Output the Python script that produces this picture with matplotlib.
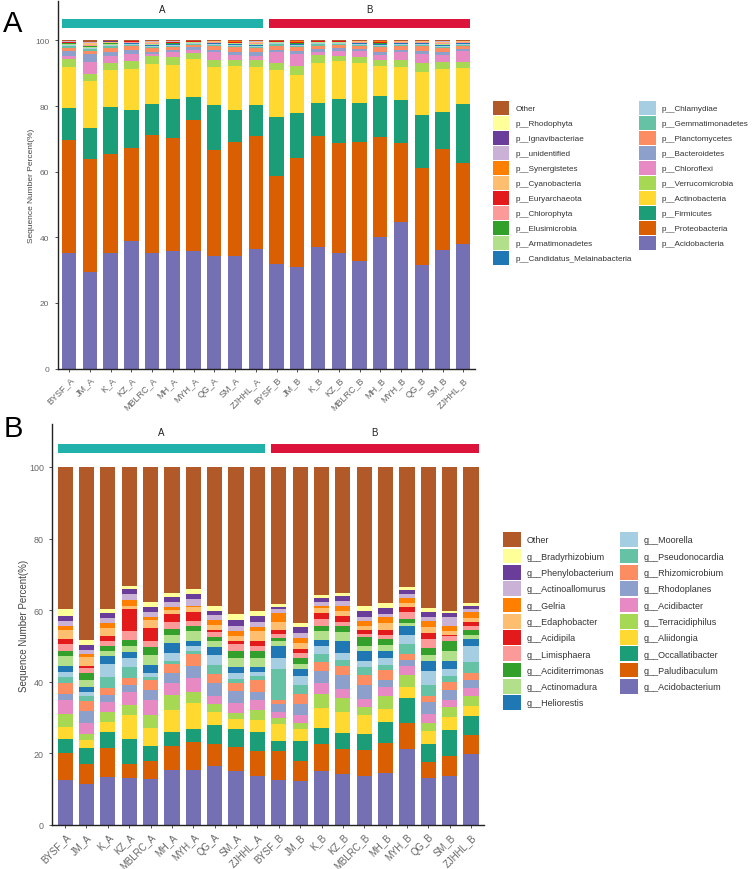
import numpy as np
import matplotlib
matplotlib.use('Agg')
import matplotlib.pyplot as plt
from matplotlib.patches import Patch

plt.rcParams['font.family'] = ['Liberation Sans', 'DejaVu Sans']

samples = ['BYSF_A', 'JM_A', 'K_A', 'KZ_A', 'MBLRC_A', 'MH_A', 'MYH_A', 'QG_A', 'SM_A', 'ZJHHL_A',
           'BYSF_B', 'JM_B', 'K_B', 'KZ_B', 'MBLRC_B', 'MH_B', 'MYH_B', 'QG_B', 'SM_B', 'ZJHHL_B']
groups = ['A', 'B']
group_colors = ['#20B2AA', '#DC143C']

# ---- phylum level (panel A), bottom of stack first ----
p_Acidobacteria = [35.2, 29.5, 35.2, 38.8, 35.3, 35.9, 35.9, 34.4, 34.2, 36.4,
                   31.8, 30.9, 36.9, 35.2, 32.7, 40.0, 44.6, 31.5, 36.0, 37.8]
p_Proteobacteria = [34.3, 34.4, 30.1, 28.4, 35.8, 34.4, 39.8, 32.2, 34.9, 34.4,
                    26.9, 33.2, 33.9, 33.6, 36.4, 30.7, 24.2, 29.6, 30.8, 24.9]
p_Firmicutes = [9.9, 9.5, 14.4, 11.5, 9.5, 11.9, 7.1, 13.6, 9.7, 9.6,
                17.9, 13.8, 10.0, 13.3, 11.8, 12.2, 13.1, 16.1, 11.5, 17.9]
p_Actinobacteria = [12.4, 14.3, 11.3, 12.5, 12.3, 10.3, 11.6, 11.7, 13.4, 11.6,
                    14.5, 11.4, 12.4, 11.5, 12.3, 9.2, 9.9, 13.3, 13.1, 11.1]
p_Verrucomicrobia = [2.6, 2.1, 2.1, 2.6, 2.2, 2.4, 1.8, 2.0, 1.7, 2.1,
                     2.0, 2.8, 2.2, 1.6, 1.6, 2.0, 2.3, 2.7, 2.1, 1.6]
p_Chloroflexi = [0.8, 3.6, 2.1, 2.2, 0.8, 1.5, 1.0, 2.5, 1.7, 1.0,
                 3.3, 3.6, 1.2, 1.6, 1.9, 1.5, 2.3, 2.7, 2.1, 3.4]
p_Bacteroidetes = [1.5, 2.3, 1.4, 1.0, 0.7, 0.7, 0.7, 0.8, 0.9, 1.5,
                   0.8, 1.0, 0.8, 0.8, 0.7, 1.0, 0.8, 1.0, 1.0, 0.7]
p_Planctomycetes = [1.0, 1.2, 1.1, 1.2, 1.0, 0.8, 0.7, 1.0, 1.5, 1.0,
                    1.2, 1.2, 1.0, 1.0, 0.8, 1.3, 1.0, 1.3, 1.0, 0.8]
p_Gemmatimonadetes = [0.5, 0.4, 0.5, 0.4, 0.5, 0.4, 0.3, 0.4, 0.4, 0.5,
                      0.4, 0.4, 0.4, 0.3, 0.4, 0.4, 0.4, 0.4, 0.5, 0.4]
p_Chlamydiae = [0.3, 0.3, 0.3, 0.3, 0.3, 0.3, 0.2, 0.3, 0.3, 0.3,
                0.3, 0.3, 0.3, 0.2, 0.3, 0.3, 0.3, 0.3, 0.3, 0.3]
p_Candidatus = [0.2, 0.2, 0.2, 0.2, 0.2, 0.2, 0.2, 0.2, 0.2, 0.2,
                0.2, 0.2, 0.2, 0.2, 0.2, 0.2, 0.2, 0.2, 0.2, 0.2]
p_Armatimonadetes = [0.2, 0.2, 0.2, 0.1, 0.2, 0.2, 0.1, 0.1, 0.2, 0.2,
                     0.1, 0.2, 0.1, 0.1, 0.1, 0.2, 0.1, 0.1, 0.2, 0.1]
p_Elusimicrobia = [0.2, 0.2, 0.2, 0.1, 0.2, 0.2, 0.1, 0.1, 0.1, 0.2,
                   0.1, 0.2, 0.1, 0.1, 0.1, 0.2, 0.1, 0.1, 0.2, 0.1]
p_Chlorophyta = [0.2, 0.4, 0.1, 0.1, 0.2, 0.1, 0.1, 0.1, 0.1, 0.2,
                 0.1, 0.1, 0.1, 0.1, 0.1, 0.1, 0.1, 0.1, 0.2, 0.1]
p_Euryarchaeota = [0.1, 0.1, 0.1, 0.3, 0.1, 0.1, 0.1, 0.1, 0.1, 0.1,
                   0.1, 0.1, 0.1, 0.1, 0.1, 0.1, 0.1, 0.1, 0.1, 0.1]
p_Cyanobacteria = [0.1, 0.5, 0.1, 0.1, 0.2, 0.1, 0.1, 0.2, 0.2, 0.2,
                   0.1, 0.2, 0.1, 0.1, 0.2, 0.2, 0.2, 0.2, 0.2, 0.2]
p_Synergistetes = [0.1, 0.1, 0.1, 0.1, 0.1, 0.1, 0.1, 0.1, 0.1, 0.1,
                   0.1, 0.1, 0.1, 0.1, 0.1, 0.1, 0.1, 0.1, 0.1, 0.1]
p_unidentified = [0.1, 0.1, 0.1, 0.0, 0.1, 0.1, 0.0, 0.0, 0.1, 0.1,
                  0.0, 0.1, 0.0, 0.0, 0.1, 0.1, 0.1, 0.1, 0.1, 0.1]
p_Ignavibacteriae = [0.1, 0.1, 0.1, 0.0, 0.1, 0.1, 0.0, 0.0, 0.0, 0.1,
                     0.0, 0.1, 0.0, 0.0, 0.0, 0.1, 0.0, 0.0, 0.1, 0.0]
p_Rhodophyta = [0.0, 0.1, 0.1, 0.0, 0.0, 0.0, 0.0, 0.0, 0.0, 0.0,
                0.0, 0.0, 0.0, 0.0, 0.0, 0.0, 0.0, 0.0, 0.0, 0.0]
p_Other = [0.2, 0.4, 0.2, 0.1, 0.2, 0.2, 0.1, 0.2, 0.2, 0.2,
           0.1, 0.1, 0.1, 0.1, 0.1, 0.1, 0.1, 0.1, 0.3, 0.1]

phylum_names = ['p__Acidobacteria', 'p__Proteobacteria', 'p__Firmicutes', 'p__Actinobacteria',
                'p__Verrucomicrobia', 'p__Chloroflexi', 'p__Bacteroidetes', 'p__Planctomycetes',
                'p__Gemmatimonadetes', 'p__Chlamydiae', 'p__Candidatus_Melainabacteria',
                'p__Armatimonadetes', 'p__Elusimicrobia', 'p__Chlorophyta', 'p__Euryarchaeota',
                'p__Cyanobacteria', 'p__Synergistetes', 'p__unidentified', 'p__Ignavibacteriae',
                'p__Rhodophyta', 'Other']
phylum_values = [p_Acidobacteria, p_Proteobacteria, p_Firmicutes, p_Actinobacteria, p_Verrucomicrobia,
                 p_Chloroflexi, p_Bacteroidetes, p_Planctomycetes, p_Gemmatimonadetes, p_Chlamydiae,
                 p_Candidatus, p_Armatimonadetes, p_Elusimicrobia, p_Chlorophyta, p_Euryarchaeota,
                 p_Cyanobacteria, p_Synergistetes, p_unidentified, p_Ignavibacteriae, p_Rhodophyta, p_Other]

# ---- genus level (panel B), bottom of stack first ----
g_Acidobacterium = [12.6, 11.5, 13.3, 13.1, 12.9, 15.5, 15.5, 16.6, 15.0, 13.6,
                    12.7, 12.4, 15.0, 14.3, 13.8, 14.5, 21.1, 13.0, 13.6, 19.7]
g_Paludibaculum = [7.5, 5.6, 8.2, 3.8, 5.1, 6.7, 7.8, 6.0, 6.7, 7.2,
                   8.1, 5.6, 7.6, 6.8, 7.2, 8.4, 7.4, 4.7, 5.6, 5.3]
g_Occallatibacter = [3.9, 4.3, 4.4, 7.0, 4.0, 3.9, 3.5, 5.2, 5.0, 5.1,
                     2.6, 5.6, 4.4, 4.6, 4.3, 6.0, 6.9, 4.9, 7.2, 5.4]
g_Aliidongia = [3.5, 2.4, 3.0, 6.7, 5.0, 6.1, 7.2, 3.9, 2.9, 3.5,
                4.8, 3.2, 5.6, 5.8, 5.3, 3.5, 3.1, 3.6, 3.7, 2.7]
g_Terracidiphilus = [3.5, 1.5, 2.8, 3.0, 3.6, 4.1, 3.1, 2.1, 1.7, 2.6,
                     1.7, 1.7, 3.9, 3.9, 2.3, 3.6, 3.3, 2.2, 2.8, 2.8]
g_Acidibacter = [3.9, 3.1, 2.6, 3.5, 4.4, 3.4, 4.0, 2.2, 2.7, 3.0,
                 1.6, 2.3, 3.2, 2.6, 2.3, 2.5, 2.6, 2.6, 2.0, 2.3]
g_Rhodoplanes = [1.7, 3.4, 1.9, 2.0, 2.6, 2.8, 3.3, 3.7, 3.3, 2.1,
                 2.3, 3.0, 3.2, 3.9, 4.0, 2.1, 1.7, 3.3, 2.8, 2.4]
g_Rhizomicrobium = [3.1, 2.8, 2.1, 1.9, 2.9, 2.4, 3.4, 2.5, 2.4, 3.4,
                    1.2, 2.8, 2.6, 2.4, 2.7, 2.7, 1.7, 1.6, 2.2, 1.8]
g_Pseudonocardia = [1.6, 1.3, 3.0, 3.1, 0.7, 1.0, 0.8, 2.6, 1.1, 1.1,
                    8.6, 2.4, 2.3, 1.8, 2.2, 1.4, 2.8, 3.1, 1.7, 3.1]
g_Moorella = [1.4, 1.2, 3.6, 2.5, 1.2, 2.2, 1.4, 2.7, 1.6, 1.1,
              3.0, 2.6, 2.3, 1.9, 1.6, 1.9, 2.6, 3.9, 2.0, 4.6]
g_Heliorestis = [1.8, 1.4, 2.2, 1.7, 2.4, 2.8, 1.3, 2.2, 1.7, 1.4,
                 3.3, 2.0, 1.6, 3.5, 2.8, 2.1, 2.5, 3.0, 2.3, 1.9]
g_Actinomadura = [2.7, 2.1, 1.5, 1.6, 2.7, 2.3, 2.8, 1.6, 2.6, 2.6,
                  1.4, 1.4, 2.4, 2.4, 1.6, 1.7, 0.8, 1.7, 2.6, 1.2]
g_Aciditerrimonas = [1.3, 1.9, 1.5, 1.9, 2.2, 1.6, 1.6, 1.2, 2.0, 1.8,
                     0.9, 1.6, 1.6, 1.8, 2.4, 1.6, 1.1, 1.9, 3.0, 1.4]
g_Limisphaera = [2.0, 1.4, 1.4, 2.3, 1.8, 1.9, 1.4, 1.4, 1.9, 1.5,
                 1.2, 1.4, 1.9, 1.1, 0.9, 1.2, 1.9, 2.5, 1.2, 1.1]
g_Acidipila = [1.5, 0.6, 1.2, 6.1, 3.5, 2.1, 2.4, 0.7, 0.7, 1.5,
               1.0, 1.2, 1.5, 1.7, 1.2, 1.4, 1.3, 1.7, 0.4, 1.1]
g_Edaphobacter = [2.4, 2.3, 2.3, 1.1, 2.3, 1.3, 1.4, 1.3, 1.4, 2.6,
                  2.3, 1.7, 1.5, 1.3, 0.9, 1.9, 1.3, 1.6, 1.2, 1.0]
g_Gelria = [1.1, 0.9, 1.5, 1.6, 0.7, 0.9, 0.4, 1.3, 1.4, 1.2,
            2.6, 1.4, 0.7, 1.5, 1.4, 1.5, 1.3, 1.6, 1.4, 1.7]
g_Actinoallomurus = [1.5, 1.2, 1.2, 1.5, 1.5, 1.3, 1.9, 1.5, 1.4, 1.5,
                     0.9, 1.4, 1.1, 1.4, 1.2, 1.0, 1.2, 1.3, 2.4, 0.9]
g_Phenylobacterium = [1.5, 1.4, 1.6, 1.6, 1.3, 1.4, 1.4, 1.1, 1.7, 1.5,
                      0.7, 1.6, 1.0, 1.2, 1.6, 1.7, 1.1, 1.3, 1.2, 0.9]
g_Bradyrhizobium = [1.7, 1.5, 0.9, 0.7, 1.6, 1.2, 1.2, 1.3, 1.7, 1.6,
                    0.7, 1.2, 0.7, 0.9, 1.6, 1.4, 0.7, 1.1, 0.6, 0.7]
g_Other = [39.8, 48.2, 39.8, 33.3, 37.6, 35.1, 34.2, 38.9, 41.1, 40.1,
           38.4, 43.5, 35.9, 35.2, 38.7, 37.9, 33.6, 39.4, 40.1, 38.0]

genus_names = ['g__Acidobacterium', 'g__Paludibaculum', 'g__Occallatibacter', 'g__Aliidongia',
               'g__Terracidiphilus', 'g__Acidibacter', 'g__Rhodoplanes', 'g__Rhizomicrobium',
               'g__Pseudonocardia', 'g__Moorella', 'g__Heliorestis', 'g__Actinomadura',
               'g__Aciditerrimonas', 'g__Limisphaera', 'g__Acidipila', 'g__Edaphobacter',
               'g__Gelria', 'g__Actinoallomurus', 'g__Phenylobacterium', 'g__Bradyrhizobium', 'Other']
genus_values = [g_Acidobacterium, g_Paludibaculum, g_Occallatibacter, g_Aliidongia, g_Terracidiphilus,
                g_Acidibacter, g_Rhodoplanes, g_Rhizomicrobium, g_Pseudonocardia, g_Moorella,
                g_Heliorestis, g_Actinomadura, g_Aciditerrimonas, g_Limisphaera, g_Acidipila,
                g_Edaphobacter, g_Gelria, g_Actinoallomurus, g_Phenylobacterium, g_Bradyrhizobium, g_Other]

# same palette for both panels (Dark2 / Set2 / Paired mix)
colors = ['#7570B3', '#D95F02', '#1B9E77', '#FFD92F', '#A6D854', '#E78AC3', '#8DA0CB', '#FC8D62',
          '#66C2A5', '#A6CEE3', '#1F78B4', '#B2DF8A', '#33A02C', '#FB9A99', '#E31A1C', '#FDBF6F',
          '#FF7F00', '#CAB2D6', '#6A3D9A', '#FFFF99', '#B15928']

W, H = 752, 870
fig = plt.figure(figsize=(W / 100, H / 100), dpi=100)

grey = '#666666'


def draw_panel(rect, names, values, width, xlim, fs, tick_fs, leg_pos, leg_fs, row_px, patch_w, patch_h):
    ax = fig.add_axes(rect)
    x = np.arange(len(samples))
    bottom = np.zeros(len(samples))
    for name, vals, c in zip(names, values, colors):
        ax.bar(x, vals, width=width, bottom=bottom, color=c, linewidth=0)
        bottom += np.array(vals)
    # group bars on top
    for gi, g in enumerate(groups):
        x0 = gi * 10 - width / 2
        x1 = gi * 10 + 9 + width / 2
        ax.fill_between([x0, x1], 103.8, 106.4, color=group_colors[gi], linewidth=0)
        ax.text((x0 + x1) / 2, 109.7, g, ha='center', va='center', fontsize=7, color='#222222')
    ax.set_xlim(*xlim)
    ax.set_ylim(0, 112)
    ax.set_yticks([0, 20, 40, 60, 80, 100])
    ax.set_xticks(x)
    ax.set_xticklabels(samples, rotation=45, ha='right', rotation_mode='anchor')
    ax.tick_params(axis='both', labelsize=tick_fs, colors='#333333', labelcolor=grey, length=2.5, width=0.6)
    ax.tick_params(axis='x', labelsize=tick_fs + 0.5, pad=2)
    ax.set_ylabel('Sequence Number Percent(%)', fontsize=fs, color='#444444')
    # ylabel anchor is the right edge of the rotated text
    ax.yaxis.set_label_coords(-23 / (rect[2] * W), 0.5)
    for s in ['top', 'right']:
        ax.spines[s].set_visible(False)
    for s in ['left', 'bottom']:
        ax.spines[s].set_linewidth(1.0)
        ax.spines[s].set_color('#222222')

    # legend in two columns, top of list = top of stack
    fpx = leg_fs * 100 / 72
    hh = (patch_h / fpx - 0.245) / 0.65
    handles = [Patch(facecolor=c, edgecolor='none', label=n) for n, c in zip(names, colors)][::-1]
    cols = [handles[:11], handles[11:]]
    for col, (lx, ly) in zip(cols, leg_pos):
        fig.legend(handles=col, loc='upper left', bbox_to_anchor=(lx / W, 1 - ly / H),
                   frameon=False, fontsize=leg_fs, borderpad=0, borderaxespad=0,
                   handlelength=patch_w / fpx, handleheight=hh,
                   labelspacing=(row_px - patch_h) / fpx, handletextpad=5.8 / fpx,
                   labelcolor='#333333')
    return ax


draw_panel([57.7 / W, 1 - 369.5 / H, (474.7 - 57.7) / W, 367.5 / H],
           phylum_names, phylum_values, 0.69, (-0.55, 19.55), 6.0, 6.0,
           [(492.7, 101.7), (639, 101.7)], 5.9, 15.0, 16.7, 14.0)
draw_panel([52.3 / W, 1 - 826 / H, (483.9 - 52.3) / W, 401 / H],
           genus_names, genus_values, 0.71, (-0.6, 19.6), 7.0, 6.4,
           [(502.7, 533.3), (620, 533.3)], 6.5, 16.3, 18.3, 14.7)

fig.text(3 / W, 1 - 32 / H, 'A', fontsize=21, ha='left', va='baseline')
fig.text(4 / W, 1 - 437 / H, 'B', fontsize=21, ha='left', va='baseline')

fig.savefig('out.png', dpi=100)
